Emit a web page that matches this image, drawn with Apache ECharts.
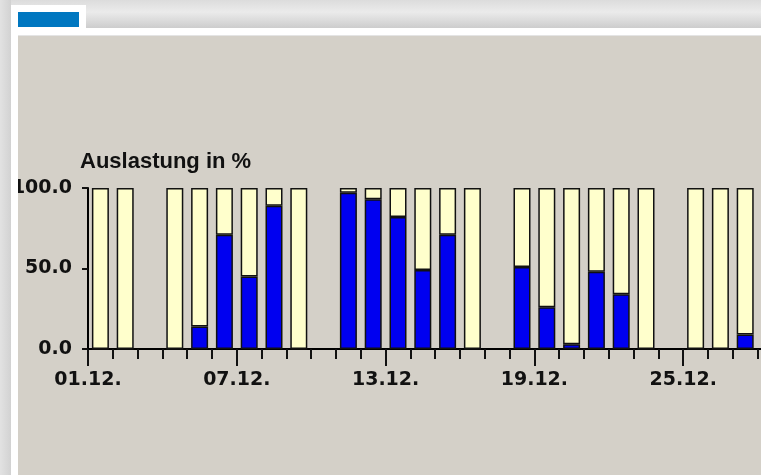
<!DOCTYPE html>
<html>
<head>
<meta charset="utf-8">
<script src="https://cdn.jsdelivr.net/npm/echarts@6/dist/echarts.min.js"></script>
<style>
  html, body { margin: 0; padding: 0; width: 761px; height: 475px; overflow: hidden; }
  body { position: relative; background: linear-gradient(to right, #e2e2e2 0px, #d2d2d2 11px); }
  #topbar { position: absolute; left: 11px; top: 0; width: 800px; height: 28px;
            background: linear-gradient(to bottom, #dcdcdc 0px, #ebebeb 12px, #cdcdcd 28px); }
  #tab { position: absolute; left: 11px; top: 5px; width: 75px; height: 30px; background: #fff; }
  #tabmark { position: absolute; left: 18px; top: 12px; width: 61px; height: 15px; background: #0077c0; }
  #panel { position: absolute; left: 11px; top: 28px; width: 900px; height: 460px; background: #fff; }
  #line { position: absolute; left: 18px; top: 35px; width: 900px; height: 1px; background: #e4e4e4; }
  #chart { position: absolute; left: 18px; top: 36px; width: 900px; height: 439px; background: #d4d0c8; }
</style>
</head>
<body>
<div id="topbar"></div>
<div id="panel"></div>
<div id="tab"></div>
<div id="tabmark"></div>
<div id="line"></div>
<div id="chart"></div>
<script>
( function () {
    "use strict";

    // December days, one band per day
    var days = ['01.12.','02.12.','03.12.','04.12.','05.12.','06.12.','07.12.','08.12.','09.12.','10.12.',
                '11.12.','12.12.','13.12.','14.12.','15.12.','16.12.','17.12.','18.12.','19.12.','20.12.',
                '21.12.','22.12.','23.12.','24.12.','25.12.','26.12.','27.12.','28.12.','29.12.','30.12.','31.12.'];
    var tickLabels = ['01.12.', '07.12.', '13.12.', '19.12.', '25.12.', '31.12.'];
    var yTicks = [0, 50, 100];

    // occupied part (blue) and free part (yellow), in %
    var used = [0, 0, null, 0, 14, 71, 45, 89, 0, null,
                97, 93, 82, 49, 71, 0, null, 51, 26, 3,
                48, 34, 0, null, 0, 0, 9, null, null, null, null];
    var free = [100, 100, null, 100, 86, 29, 55, 11, 100, null,
                3, 7, 18, 51, 29, 100, null, 49, 74, 97,
                52, 66, 100, null, 100, 100, 91, null, null, null, null];

    var numFont = { fontFamily: 'DejaVu Sans', fontWeight: 'bold', fontSize: 19, color: '#111' };

    var dom = document.getElementById("chart");
    var myChart = echarts.init(dom);
    var option = {
        animation: false,
        title: {
            text: 'Auslastung in %',
            left: 62,
            top: 115,
            padding: 0,
            textStyle: { fontFamily: 'Liberation Sans', fontWeight: 'bold', fontSize: 22, color: '#111' }
        },
        grid: { left: 70, top: 152, width: 768.8, height: 161, outerBoundsMode: 'none', containLabel: false },
        xAxis: [
            {
                type: 'category',
                data: days,
                boundaryGap: true,
                axisLine: { lineStyle: { color: '#000', width: 2 } },
                axisTick: { show: true, interval: 0, length: 10, lineStyle: { color: '#111', width: 2 } },
                axisLabel: { show: false }
            },
            {
                type: 'value',
                position: 'bottom',
                min: 0,
                max: days.length,
                interval: 6,
                axisLine: { show: false },
                axisTick: { length: 17, lineStyle: { color: '#111', width: 2 } },
                splitLine: { show: false },
                axisLabel: Object.assign({
                    margin: 22,
                    formatter: function (v) { return v % 6 === 0 ? (tickLabels[v / 6] || '') : ''; }
                }, numFont)
            }
        ],
        yAxis: {
            type: 'value',
            min: yTicks[0],
            max: yTicks[yTicks.length - 1],
            interval: 50,
            axisLine: { show: true, lineStyle: { color: '#000', width: 2 } },
            axisTick: { show: true, length: 6, lineStyle: { color: '#111', width: 2 } },
            splitLine: { show: false },
            axisLabel: Object.assign({
                margin: 16,
                formatter: function (v) { return v.toFixed(1); }
            }, numFont)
        },
        series: [
            {
                name: 'belegt',
                type: 'bar',
                stack: 'tag',
                barWidth: 17,
                data: used,
                itemStyle: { color: '#0000f0', borderColor: '#111', borderWidth: 1.5 }
            },
            {
                name: 'frei',
                type: 'bar',
                stack: 'tag',
                barWidth: 17,
                data: free,
                itemStyle: { color: '#ffffcc', borderColor: '#111', borderWidth: 1.5 }
            }
        ]
    };
    myChart.setOption(option, true);

} )();
</script>
</body>
</html>
